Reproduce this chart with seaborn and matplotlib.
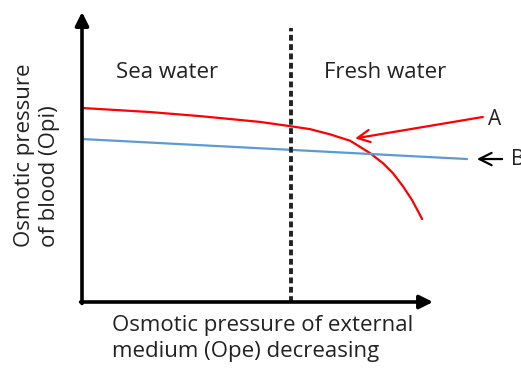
import matplotlib
matplotlib.use('Agg')
import matplotlib.pyplot as plt
import seaborn as sns
import pandas as pd

# curve values (x: external medium, y: blood), 0-100 scale
red_x = [0, 19.4, 33.6, 50.7, 59.5, 65.0, 70.7, 76.4, 82.1, 85.8,
         88.6, 91.5, 94.0, 95.7, 96.9]
red_y = [66.9, 65.5, 64.1, 62.1, 60.6, 59.6, 57.8, 55.6, 51.3, 47.8,
         44.4, 39.8, 35.2, 31.4, 28.6]
blue_x = [0, 109.7]
blue_y = [56.2, 49.3]
divider_x = 59.5
region_labels = ['Sea water', 'Fresh water']
curve_labels = ['A', 'B']

sns.set_theme(style='white')
plt.rcParams['font.family'] = ['Open Sans', 'DejaVu Sans']

fig = plt.figure(figsize=(5.21, 3.73), dpi=100)
ax = fig.add_axes([82 / 521, 71 / 373, 351 / 521, 290 / 373])
ax.set_xlim(0, 100)
ax.set_ylim(0, 100)
ax.set_axis_off()

red_df = pd.DataFrame({'x': red_x, 'y': red_y})
blue_df = pd.DataFrame({'x': blue_x, 'y': blue_y})
sns.lineplot(data=red_df, x='x', y='y', sort=False, estimator=None,
             color='#ff0000', lw=1.6, ax=ax, clip_on=False)
sns.lineplot(data=blue_df, x='x', y='y', sort=False, estimator=None,
             color='#5b9bd5', lw=1.6, ax=ax, clip_on=False)

# dotted divider between sea water and fresh water
ax.plot([divider_x, divider_x], [0, 94.5], color='#222222', lw=2.8,
        linestyle=(0, (1.5, 0.9)), clip_on=False)

# axes drawn as arrows
arrow = dict(arrowstyle='-|>', lw=2.6, color='black', mutation_scale=20,
             shrinkA=0, shrinkB=0)
ax.annotate('', xy=(1, 0), xytext=(-0.004, 0), xycoords='axes fraction',
            arrowprops=arrow)
ax.annotate('', xy=(0, 1), xytext=(0, -0.005), xycoords='axes fraction',
            arrowprops=arrow)

ax.text(24.2, 79.3, region_labels[0], ha='center', va='center', fontsize=16,
        color='#222222')
ax.text(86.3, 79.3, region_labels[1], ha='center', va='center', fontsize=16,
        color='#222222', clip_on=False)

# curve labels with pointer arrows
ax.annotate('', xy=(77.8, 56.4), xytext=(114.2, 63.8), annotation_clip=False,
            arrowprops=dict(arrowstyle='->', color='#ff0000', lw=1.6,
                            mutation_scale=22, shrinkA=0, shrinkB=0))
ax.text(115.8, 62.8, curve_labels[0], ha='left', va='center', fontsize=15,
        color='#222222', clip_on=False)
ax.annotate('', xy=(112.5, 49.3), xytext=(119.7, 49.3), annotation_clip=False,
            arrowprops=dict(arrowstyle='->', color='black', lw=1.6,
                            mutation_scale=22, shrinkA=0, shrinkB=0))
ax.text(122.3, 49.3, curve_labels[1], ha='left', va='center', fontsize=15,
        color='#222222', clip_on=False)

ax.text(8.5, -4.6, 'Osmotic pressure of external\nmedium (Ope) decreasing',
        ha='left', va='top', fontsize=16, linespacing=1.3, color='#222222')
ax.text(-12.8, 19, 'Osmotic pressure\nof blood (Opi)', rotation=90,
        ha='center', va='bottom', multialignment='left', fontsize=16,
        linespacing=1.3, color='#222222')

fig.savefig('out.png', dpi=100)
